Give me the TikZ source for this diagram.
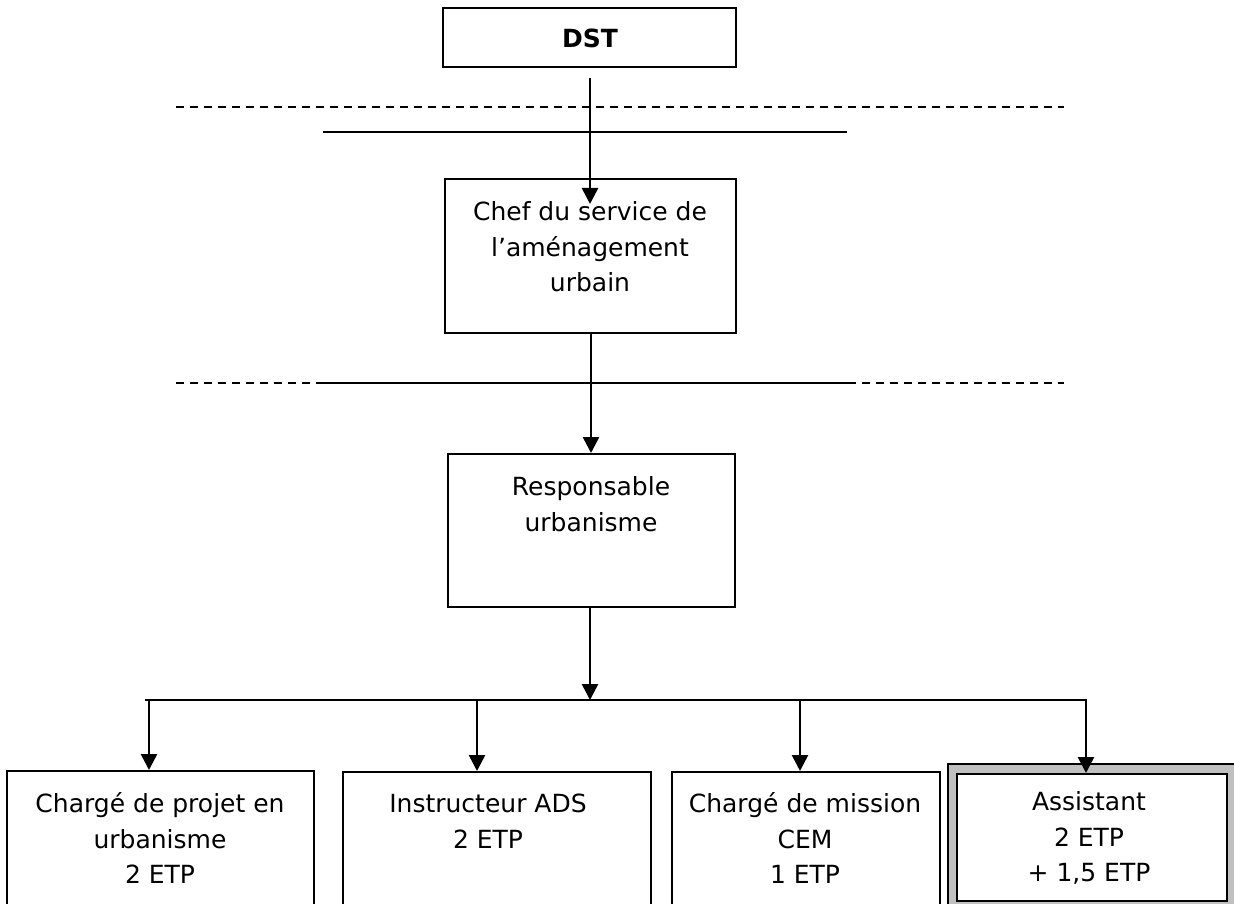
\documentclass[tikz,border=0pt]{standalone}
\usepackage{fontspec}
\setmainfont{DejaVu Sans}
\usetikzlibrary{arrows.meta}
\tikzset{
  box/.style={draw=black, line width=2pt, rectangle, inner sep=0pt, anchor=north west},
  txt/.style={align=center, inner sep=0pt, font=\fontsize{25}{35.5}\selectfont},
  conn/.style={line width=2.6pt, -{Triangle[width=16pt,length=16pt]}},
  bar/.style={line width=2.4pt},
  dashline/.style={line width=2.2pt, dash pattern=on 8pt off 6pt},
}
\begin{document}
\begin{tikzpicture}[x=1pt,y=-1pt]
\useasboundingbox[fill=white] (0,0) rectangle (1234,904);
% top box
\node[box, minimum width=293pt, minimum height=59pt] (dst) at (442,7) {};
\node[txt, font=\fontsize{25}{36}\selectfont\bfseries] (tdst) at (590,38) {DST};
% separators
\draw[dashline] (176,107) -- (1064,107);
\draw[bar] (323,132) -- (847,132);
% chef
\node[box, minimum width=291pt, minimum height=154pt] (chef) at (444,178) {};
\node[txt] (tchef) at (590,247) {Chef du service de\\l’aménagement\\urbain};
\coordinate (s1) at (590,78);
\coordinate (e1) at (590,204);
\draw[conn] (s1) -- (e1);
% second separator
\draw[dashline] (176,383) -- (1064,383);
\draw[bar] (323,383) -- (848,383);
% responsable
\node[box, minimum width=287pt, minimum height=153pt] (resp) at (447,453) {};
\node[txt] (tresp) at (591,504) {Responsable\\urbanisme};
\draw[conn] (chef.south -| 591,0) -- (resp.north -| 591,0);
% bar
\coordinate (bl) at (145,700);
\coordinate (br) at (1087,700);
\coordinate (bm) at (590,700);
\draw[conn] (resp.south -| bm) -- (bm);
\draw[bar] (bl) -- (br);
% bottom boxes
\node[box, minimum width=307pt, minimum height=145pt] (b1) at (6,770) {};
\node[box, minimum width=308pt, minimum height=145pt] (b2) at (342,771) {};
\node[box, minimum width=268pt, minimum height=145pt] (b3) at (671,771) {};
\node[box, fill={rgb,255:red,192;green,192;blue,192}, minimum width=292pt, minimum height=145pt] (b4o) at (947,763) {};
\node[box, fill=white, minimum width=270pt, minimum height=127pt] (b4) at (956,773) {};
\node[txt] (t1) at (160,838) {Chargé de projet en\\urbanisme\\2 ETP};
\node[txt] (t2) at (488,821) {Instructeur ADS\\2 ETP};
\node[txt] (t3) at (805,838) {Chargé de mission\\CEM\\1 ETP};
\node[txt] (t4) at (1089,838) {Assistant\\2 ETP\\+ 1,5 ETP};
\draw[conn] (bl -| 149,0) -- (b1.north -| 149,0);
\draw[conn] (bl -| 477,0) -- (b2.north -| 477,0);
\draw[conn] (bl -| 800,0) -- (b3.north -| 800,0);
\draw[conn] (br -| 1086,0) -- (b4.north -| 1086,0);
\end{tikzpicture}
\end{document}
